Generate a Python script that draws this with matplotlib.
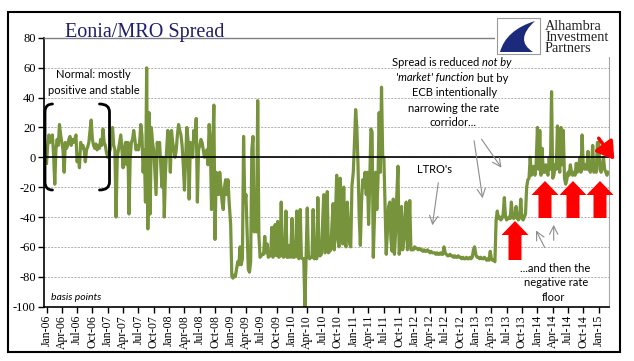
import matplotlib
matplotlib.use('Agg')
import matplotlib.pyplot as plt
import matplotlib.transforms as mtransforms
from matplotlib.patches import Polygon, Rectangle, FancyArrowPatch, PathPatch
from matplotlib.path import Path
import pandas as pd

# ---- data: Eonia minus MRO rate, basis points, weekly readings (52 per year from Jan 1) ----
y2006 = [-4, 8, 15, 10, 14, 15, 2, -18, 5, 12, 8, 22, 15, 10, 5, -10, 10, 6, 8, 12, 14, 8, 12, 10, 12, 15,
         -3, 2, -7, 10, 6, 8, 5, -3, 5, 7, 10, 18, 25, 12, 8, 6, 9, 5, 8, 6, 12, 8, 19, 10, 8, 3]
y2007 = [0, 3, 5, 12, 20, 8, 5, -40, 0, 5, 10, 15, 5, -7, 5, 10, -5, 10, -38, 0, 10, 12, 18, 12, 5, 8,
         5, 10, 22, 15, -10, 5, -30, 60, -48, 30, -38, 20, 10, 5, -10, -25, 10, 5, 10, -5, -20, 0, -40, -10, 5, 18]
y2008 = [10, -10, 18, 10, 5, 0, 5, 15, 22, 18, 15, 8, -5, -22, 0, 20, 12, -28, 10, 5, 0, 18, 10, 26, -30, 5,
         8, 12, 10, 5, 0, 3, 5, -5, 22, 10, -35, 5, 35, -55, -10, -20, -25, -10, -20, -30, -35, -20, -15, -25, -15, -30]
y2009 = [-45, -80, -81, -79, -80, -75, -70, -72, -60, -72, -68, 14, -30, -25, -50, -75, -77, -70, 5, 14, -50, -45,
         -50, 38, -52, -67, -66, -65, -65, -53, -64, -58, -67, -66, -66, -47, -67, -47, -45, -66, -43, -67, -66, -30,
         -66, -67, -66, -36, -67, -67, -59, -67]
y2010 = [-41, -67, -67, -66, -36, -67, -68, -35, -67, -68, -68, -100, -66, -34, -67, -68, -67, -67, -35, -68, -67,
         -68, -27, -66, -66, -65, -45, -25, -64, -63, -23, -64, -63, -62, -45, -31, -62, -40, -12, -55, -60, -14,
         -50, -58, -20, -58, -60, -30, -45, -58, -60, -19]
y2011 = [-10, 10, 32, 20, -5, -40, -59, -30, -15, -20, -10, -25, -10, -45, -15, 19, 17, -67, -40, -10, -35, -15,
         30, -10, 47, 0, 0, -32, -65, -50, -33, -30, -55, -63, -28, -65, -50, -25, -6, -65, -60, -33, -62, -55,
         -40, -30, -62, -55, -29, -62, -62, -62]
y2012 = [-60, -61, -61, -62, -61, -62, -62, -63, -62, -63, -63, -62, -63, -64, -63, -64, -64, -64, -65, -64, -65,
         -65, -64, -65, -65, -60, -64, -65, -66, -66, -65, -66, -66, -67, -66, -67, -67, -66, -67, -67, -68, -67,
         -68, -68, -67, -68, -68, -67, -68, -67, -62, -60]
y2013 = [-66, -67, -67, -68, -67, -68, -68, -67, -68, -69, -68, -69, -63, -68, -69, -69, -70, -42, -36, -41, -40,
         -42, -41, -38, -27, -40, -42, -41, -40, -41, -30, -40, -41, -40, -33, -41, -42, -40, -28, -41, -42, -40,
         -38, -20, -15, -14, 0, -12, -10, -6, -12, -5]
y2014 = [20, -8, 18, -12, 6, -10, -10, -5, -10, -12, 0, -8, 44, -14, -12, -5, -8, 21, -5, -10, 20, -5, 18, -14,
         -18, -15, -10, -12, -5, -10, -12, -10, -12, -4, -10, -8, 0, -10, 15, -6, -8, -5, -8, 4, -8, -10, -6, 8,
         -10, -8, -10, 10]
y2015 = [10, -8, -10, -6, 0, -8, -10, -12, -10]

years = [2006, 2007, 2008, 2009, 2010, 2011, 2012, 2013, 2014, 2015]
yearly = [y2006, y2007, y2008, y2009, y2010, y2011, y2012, y2013, y2014, y2015]
dates = []
spread = []
for yr, vals in zip(years, yearly):
    dates.extend(pd.date_range(f'{yr}-01-01', periods=len(vals), freq='7D'))
    spread.extend(vals)

title = "Eonia/MRO Spread"
logo_text = "Alhambra\nInvestment\nPartners"
tick_dates = pd.date_range('2006-01-01', '2015-01-01', freq='QS')
tick_labels = [d.strftime('%b-%y') for d in tick_dates]
y_ticks = list(range(-100, 81, 20))

W, H = 634, 361
fig = plt.figure(figsize=(W / 100, H / 100), dpi=100)
T = mtransforms.Affine2D().scale(1 / W, -1 / H).translate(0, 1) + fig.transFigure

SERIF = 'Liberation Serif'
ANN = 'Lato'

ax = fig.add_axes([44 / W, 1 - 306.5 / H, (609 - 44) / W, (306.5 - 38) / H])
ax.plot(dates, spread, color='#77933C', lw=2.3, zorder=2)
ax.axhline(0, color='black', lw=1.2, zorder=3)
ax.set_ylim(-100, 80)
ax.set_xlim(pd.Timestamp('2005-12-17'), pd.Timestamp('2015-03-03'))
ax.set_yticks(y_ticks)
ax.set_yticklabels([str(v) for v in y_ticks], fontfamily=SERIF, fontsize=9)
ax.set_xticks(tick_dates)
ax.set_xticklabels(tick_labels, rotation=90, fontfamily=SERIF, fontsize=8.5)
ax.tick_params(axis='both', direction='out', length=4, width=1, color='black', pad=2)
ax.yaxis.grid(True, color='#A6A6A6', linestyle=(0, (2.5, 1.5)), lw=0.6)
ax.set_axisbelow(True)
for s in ['left', 'bottom']:
    ax.spines[s].set_color('black')
    ax.spines[s].set_linewidth(1.2)
ax.spines['top'].set_color('#7F7F7F')
ax.spines['top'].set_linewidth(1.0)
ax.spines['right'].set_color('#A6A6A6')
ax.spines['right'].set_linewidth(0.8)

# ---- title ----
fig.text(64.6, 37, title, transform=T, fontfamily=SERIF, fontsize=14.5,
         color='#1F1F6B', va='baseline', ha='left')

# ---- logo ----
fig.add_artist(Rectangle((495, 13), 124, 44, transform=T, fc='white', ec='none', zorder=2))
fig.add_artist(Rectangle((497, 18), 43, 36, transform=T, fc='white', ec='#9A9A9A', lw=0.8, zorder=3))
logo = Path([(535, 21), (506, 30), (500, 52), (533, 52), (514, 40), (535, 21)],
            [Path.MOVETO, Path.CURVE3, Path.CURVE3, Path.LINETO, Path.CURVE3, Path.CURVE3])
fig.add_artist(PathPatch(logo, transform=T, fc='#1B2A7A', ec='none', zorder=4))
fig.text(545, 37.5, logo_text, transform=T, fontfamily=SERIF, fontsize=10.3, color='#222222',
         va='center', ha='left', linespacing=0.78, zorder=5)


def rich(segments, cx, cy, size, color='black'):
    r = fig.canvas.get_renderer()
    probe1 = fig.text(0, 0, 'a a', fontfamily=ANN, fontsize=size)
    probe2 = fig.text(0, 0, 'aa', fontfamily=ANN, fontsize=size)
    sp = probe1.get_window_extent(r).width - probe2.get_window_extent(r).width
    probe1.remove()
    probe2.remove()
    objs = []
    for s, italic in segments:
        t = fig.text(0, cy, s, transform=T, fontfamily=ANN, fontsize=size,
                     style='italic' if italic else 'normal', va='center', ha='left', color=color, zorder=6)
        objs.append(t)
    ws = [o.get_window_extent(r).width for o in objs]
    total = sum(ws) + sp * (len(objs) - 1)
    x = cx - total / 2
    for o, w in zip(objs, ws):
        o.set_x(x)
        x += w + sp


FS = 8.0
rich([("Normal: mostly", False)], 93, 75, FS)
rich([("positive and stable", False)], 94, 90, FS)
rich([("basis points", True)], 76, 298, 7.5)
rich([("Spread is reduced", False), ("not by", True)], 452, 63, FS)
rich([("'market' function", True), ("but by", False)], 452, 78, FS)
rich([("ECB intentionally", False)], 455, 93, FS)
rich([("narrowing the rate", False)], 454, 108, FS)
rich([("corridor...", False)], 453, 122.5, FS)
rich([("LTRO's", False)], 434, 169.5, FS)
rich([("...and then the", False)], 555.5, 268, FS)
rich([("negative rate", False)], 556, 283, FS)
rich([("floor", False)], 553, 297.7, FS)

# ---- brackets ----
for pts in ([(52.5, 104), (45, 104), (45, 112), (45, 182), (45, 190), (52.5, 190)],
            [(99.5, 104), (109.5, 104), (109.5, 112), (109.5, 182), (109.5, 190), (99.5, 190)]):
    p = Path(pts, [Path.MOVETO, Path.CURVE3, Path.CURVE3, Path.LINETO, Path.CURVE3, Path.CURVE3])
    fig.add_artist(PathPatch(p, transform=T, fc='none', ec='black', lw=2.0, capstyle='round', zorder=6))

# ---- gray pointer arrows ----
for a, b in [((438.7, 180), (432, 228)), ((473.7, 138), (483, 201)), ((480, 137), (503, 170)),
             ((546, 250), (534.7, 228)), ((553.7, 243), (553.7, 222))]:
    fig.add_artist(FancyArrowPatch(a, b, transform=T, arrowstyle='->,head_length=0.6,head_width=0.3',
                                   mutation_scale=10, color='#8C8C8C', lw=0.8, zorder=6))


# ---- red block arrows ----
def block_arrow(cx, tip, base, bottom, hw=13.5, sw=6.5):
    pts = [(cx, tip), (cx + hw, base), (cx + sw, base), (cx + sw, bottom),
           (cx - sw, bottom), (cx - sw, base), (cx - hw, base)]
    fig.add_artist(Polygon(pts, closed=True, transform=T, fc='#FF0000', ec='none', zorder=6))


block_arrow(515, 221, 235, 260)
for cx in (545, 573, 600):
    block_arrow(cx, 181, 195, 218)

fig.add_artist(FancyArrowPatch((597, 136), (616, 162), transform=T,
                               arrowstyle='-|>,head_length=0.8,head_width=0.5',
                               mutation_scale=13, color='#FF0000', lw=2.5, zorder=6))

# ---- outer frame ----
fig.add_artist(Rectangle((8, 12), 612, 340, transform=T, fill=False, ec='black', lw=1.5, zorder=10))

fig.savefig('out.png', dpi=100)
